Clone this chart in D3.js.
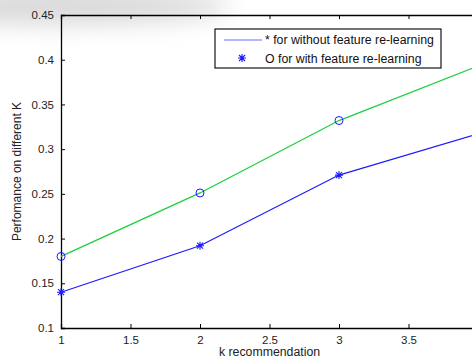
<!DOCTYPE html>
<html>
<head>
<meta charset="utf-8">
<script src="https://cdn.jsdelivr.net/npm/d3@7"></script>
<style>
  body { margin: 0; background: #fff; }
  svg { font-family: "Liberation Sans", Arial, sans-serif; }
</style>
</head>
<body>
<div id="chart"></div>
<script>
// data
const kValues = [1, 2, 3, 4];
const withoutRelearning = [0.14, 0.192, 0.271, 0.317];
const withRelearning = [0.18, 0.251, 0.332, 0.393];
const xTicks = [1, 1.5, 2, 2.5, 3, 3.5];
const yTicks = [0.1, 0.15, 0.2, 0.25, 0.3, 0.35, 0.4, 0.45];
const legendLabels = ["* for without feature re-learning", "O for with feature re-learning"];

const width = 472, height = 360;
const margin = {top: 15, right: -6, bottom: 32, left: 61};

const svg = d3.select("#chart").append("svg")
  .attr("width", width)
  .attr("height", height);

// grey smudge top-left of the scan
const defs = svg.append("defs");
defs.append("filter").attr("id", "blur")
  .attr("x", "-50%").attr("y", "-100%").attr("width", "200%").attr("height", "300%")
  .append("feGaussianBlur").attr("stdDeviation", 12);
svg.append("ellipse")
  .attr("cx", 60).attr("cy", 6).attr("rx", 170).attr("ry", 18)
  .attr("fill", "#d8d8d8")
  .attr("filter", "url(#blur)");

const x = d3.scaleLinear()
  .domain([1, 4])
  .range([margin.left, width - margin.right]);

const y = d3.scaleLinear()
  .domain([0.1, 0.45])
  .range([height - margin.bottom, margin.top]);

const g = svg.append("g");

// bottom axis (ticks inside)
g.append("g")
  .attr("transform", "translate(0," + y(0.1) + ")")
  .call(d3.axisBottom(x).tickValues(xTicks).tickSize(-4).tickPadding(8).tickFormat(d3.format("")))
  .call(a => a.select(".domain").attr("stroke-width", 1.3))
  .selectAll("text").style("font-size", "11.5px").attr("fill", "#222");

// top axis
g.append("g")
  .attr("transform", "translate(0," + y(0.45) + ")")
  .call(d3.axisTop(x).tickValues(xTicks).tickSize(-4).tickFormat(""))
  .call(a => a.select(".domain").attr("stroke-width", 1.3));

// left axis
g.append("g")
  .attr("transform", "translate(" + x(1) + ",0)")
  .call(d3.axisLeft(y).tickValues(yTicks).tickSize(-4).tickPadding(7).tickFormat(d3.format("")))
  .call(a => a.select(".domain").attr("stroke-width", 1.3))
  .selectAll("text").style("font-size", "11.5px").attr("fill", "#222");

// lines
const line = d3.line()
  .x((d, i) => x(kValues[i]))
  .y(d => y(d));

g.append("path")
  .datum(withRelearning)
  .attr("d", line)
  .attr("fill", "none")
  .attr("stroke", "#1ccf3c")
  .attr("stroke-width", 1.3);

g.append("path")
  .datum(withoutRelearning)
  .attr("d", line)
  .attr("fill", "none")
  .attr("stroke", "#1a1aff")
  .attr("stroke-width", 1.2);

// circle markers
g.selectAll("circle.m")
  .data(withRelearning)
  .enter().append("circle")
  .attr("cx", (d, i) => x(kValues[i]))
  .attr("cy", d => y(d))
  .attr("r", 4)
  .attr("fill", "none")
  .attr("stroke", "#1a1aff")
  .attr("stroke-width", 1);

// asterisk markers
function asterisk(sel) {
  sel.append("path").attr("d", "M-4,0H4M0,-4V4M-3,-3L3,3M-3,3L3,-3")
    .attr("stroke", "#1a1aff").attr("stroke-width", 1.1).attr("fill", "none");
}
g.selectAll("g.star")
  .data(withoutRelearning)
  .enter().append("g")
  .attr("transform", (d, i) => "translate(" + x(kValues[i]) + "," + y(d) + ")")
  .call(asterisk);

// axis labels
svg.append("text")
  .attr("x", (x(1) + x(4)) / 2)
  .attr("y", 356)
  .attr("text-anchor", "middle")
  .style("font-size", "12.3px")
  .attr("fill", "#222")
  .text("k recommendation");

svg.append("text")
  .attr("transform", "translate(21," + (y(0.275)) + ") rotate(-90)")
  .attr("text-anchor", "middle")
  .style("font-size", "12px")
  .attr("fill", "#222")
  .text("Perfomance on different K");

// legend
const legend = svg.append("g").attr("transform", "translate(215,29)");
legend.append("rect")
  .attr("width", 226).attr("height", 39)
  .attr("fill", "#fff")
  .attr("stroke", "#000")
  .attr("stroke-width", 1.1);

legend.append("line")
  .attr("x1", 9).attr("x2", 47).attr("y1", 11).attr("y2", 11)
  .attr("stroke", "#6f6fff").attr("stroke-width", 1.2);

legend.append("g")
  .attr("transform", "translate(27,29)")
  .call(asterisk);

legend.selectAll("text.lab")
  .data(legendLabels)
  .enter().append("text")
  .attr("x", 50)
  .attr("y", (d, i) => 15 + i * 19)
  .style("font-size", "12.3px")
  .attr("fill", "#111")
  .text(d => d);
</script>
</body>
</html>
